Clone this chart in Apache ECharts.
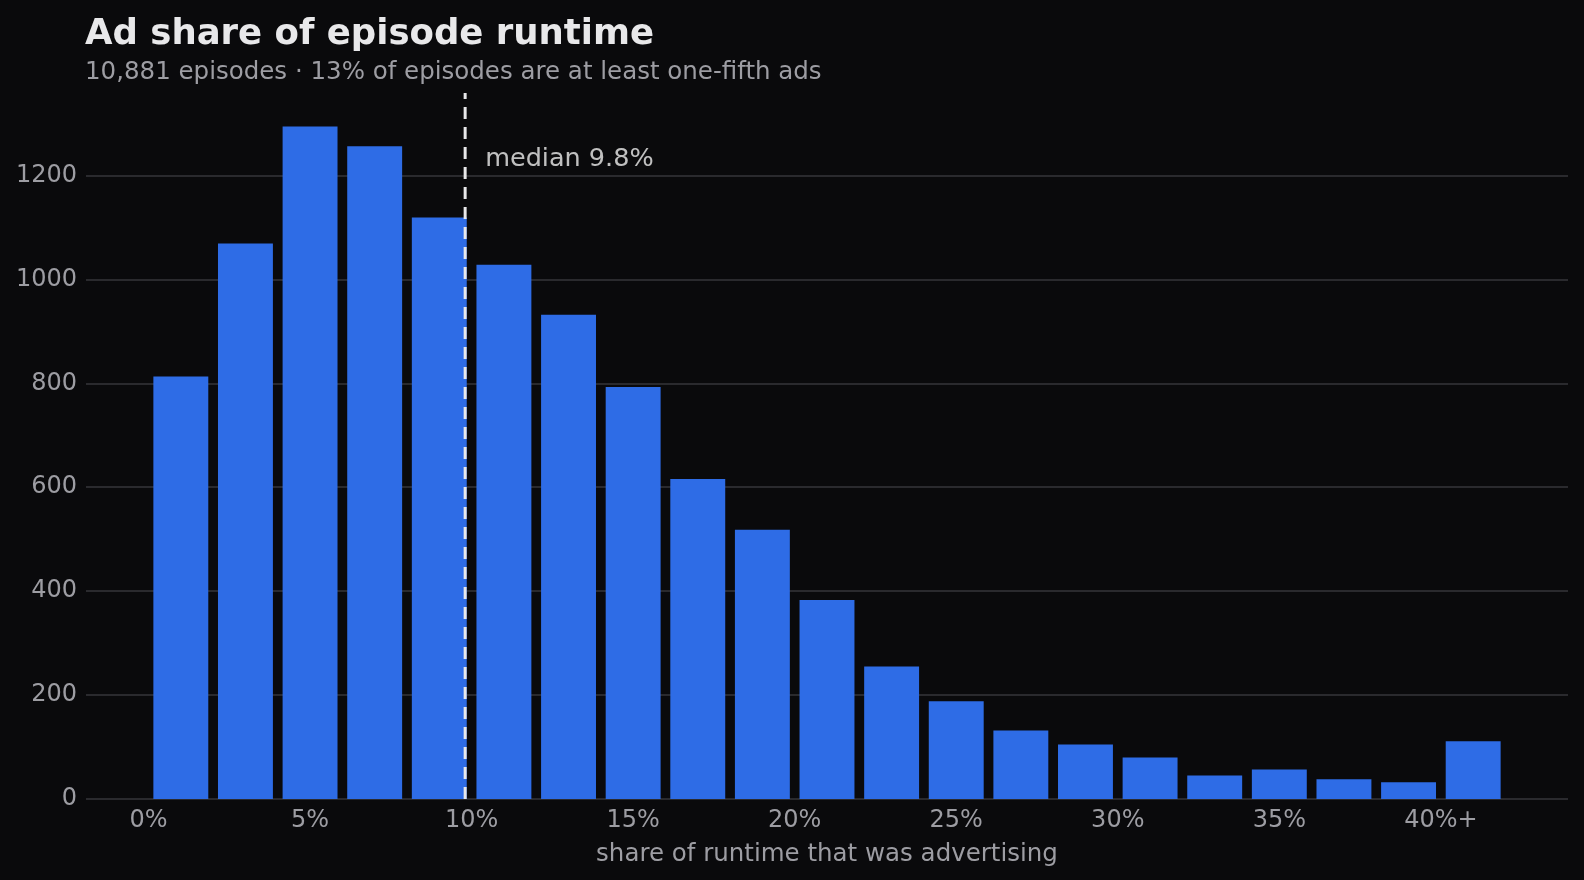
<!DOCTYPE html>
<html>
<head>
<meta charset="utf-8">
<title>Ad share of episode runtime</title>
<script src="https://cdn.jsdelivr.net/npm/echarts@6/dist/echarts.min.js"></script>
<style>
  html, body { margin: 0; padding: 0; background: #0a0a0c; }
  #chart { width: 1584px; height: 880px; }
</style>
</head>
<body>
<div id="chart"></div>
<script>
// histogram bins: start of each 2% bin (last one is 40%+)
var binStart = [0, 2, 4, 6, 8, 10, 12, 14, 16, 18, 20, 22, 24, 26, 28, 30, 32, 34, 36, 38, 40];
var episodeCounts = [813, 1069, 1294, 1256, 1119, 1028, 932, 793, 616, 518, 383, 255, 188, 132, 105, 80, 45, 57, 38, 32, 111];
var tickValues = [0, 5, 10, 15, 20, 25, 30, 35, 40];
var tickLabels = ['0%', '5%', '10%', '15%', '20%', '25%', '30%', '35%', '40%+'];
var medianShare = 9.8;
var medianLabelY = 1230;

var FONT = 'DejaVu Sans';
var yMax = Math.max.apply(null, episodeCounts) * 1.05;

var barData = binStart.map(function (s, i) { return [s, episodeCounts[i]]; });

var chart = echarts.init(document.getElementById('chart'));
var option = {
    backgroundColor: '#0a0a0c',
    animation: false,
    title: {
        text: 'Ad share of episode runtime',
        subtext: '10,881 episodes \u00b7 13% of episodes are at least one-fifth ads',
        left: 80,
        top: 12,
        itemGap: 7,
        textStyle: { color: '#e8e8ea', fontFamily: FONT, fontSize: 35.5, fontWeight: 'bold' },
        subtextStyle: { color: '#9d9da3', fontFamily: FONT, fontSize: 24.5 }
    },
    grid: { left: 86, right: 16, top: 93, bottom: 81 },
    xAxis: {
        type: 'value',
        min: -1.935,
        max: 43.935,
        name: 'share of runtime that was advertising',
        nameLocation: 'middle',
        nameGap: 43,
        nameTextStyle: { color: '#9d9da3', fontFamily: FONT, fontSize: 24.5 },
        axisLine: { show: false },
        axisTick: { show: false },
        splitLine: { show: false },
        axisLabel: {
            customValues: tickValues,
            color: '#9d9da3',
            fontFamily: FONT,
            fontSize: 24,
            margin: 10,
            formatter: function (v) { return tickLabels[tickValues.indexOf(v)]; }
        }
    },
    yAxis: {
        type: 'value',
        min: 0,
        max: yMax,
        interval: 200,
        axisLine: { show: false },
        axisTick: { show: false },
        splitLine: { showMaxLine: false, lineStyle: { color: '#2a2a2e', width: 2 } },
        axisLabel: {
            color: '#9d9da3',
            fontFamily: FONT,
            fontSize: 24,
            margin: 9,
            showMaxLabel: false,
            formatter: function (v) { return String(v); }
        }
    },
    series: [
        {
            type: 'custom',
            data: barData,
            encode: { x: 0, y: 1 },
            renderItem: function (params, api) {
                var s = api.value(0);
                var c = api.value(1);
                var p0 = api.coord([s + 0.15, c]);
                var p1 = api.coord([s + 1.85, 0]);
                return {
                    type: 'rect',
                    shape: { x: p0[0], y: p0[1], width: p1[0] - p0[0], height: p1[1] - p0[1] },
                    style: { fill: '#2e6ce6' }
                };
            },
            z: 2
        },
        {
            type: 'line',
            data: [[medianShare, 0], [medianShare, yMax]],
            showSymbol: false,
            lineStyle: { color: '#e8e8ea', width: 3, type: [12, 8] },
            z: 3
        },
        {
            type: 'scatter',
            data: [[medianShare, medianLabelY]],
            symbolSize: 0,
            label: {
                show: true,
                position: 'right',
                distance: 20,
                formatter: 'median ' + medianShare + '%',
                color: '#ededee',
                fontFamily: FONT,
                fontSize: 25.5
            },
            z: 4
        }
    ]
};
chart.setOption(option);
</script>
</body>
</html>
